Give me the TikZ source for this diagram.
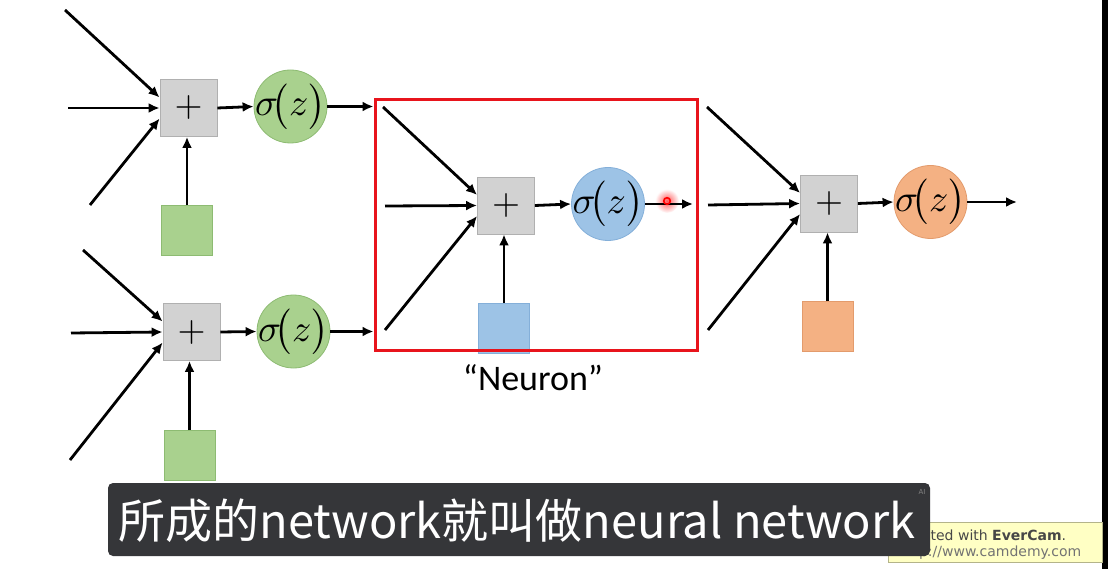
\documentclass[tikz,border=0pt]{standalone}
\usepackage{fontspec}
\setmainfont{Carlito}
\newfontfamily\cjkfont{Noto Sans CJK SC}
\newfontfamily\dvfont{DejaVu Sans}
\usetikzlibrary{arrows.meta}
\definecolor{boxfill}{HTML}{D2D2D2}
\definecolor{boxline}{HTML}{B0B0B0}
\definecolor{gfill}{HTML}{A9D18E}
\definecolor{gline}{HTML}{8DBB72}
\definecolor{bfill}{HTML}{9DC3E6}
\definecolor{bline}{HTML}{84AFD9}
\definecolor{ofill}{HTML}{F4B183}
\definecolor{oline}{HTML}{E39B6C}
\definecolor{redline}{HTML}{E8141C}
\definecolor{subbg}{HTML}{353639}
\definecolor{evfill}{HTML}{FFFFC4}
\definecolor{evline}{HTML}{B4B48A}
\newcommand{\sigz}{\scalebox{3.8}{$\sigma\!\bigl(z\bigr)$}}
\newcommand{\plusz}{\scalebox{3.6}{$+$}}
\tikzset{
  arr/.style={line width=2.8pt, -{Latex[length=11pt,width=10pt]}},
  plusbox/.style={draw=boxline, fill=boxfill, line width=0.8pt, minimum width=57pt, minimum height=57pt, inner sep=0pt, font=\fontsize{10}{10}\selectfont},
  sig/.style={circle, line width=0.8pt, minimum size=73pt, inner sep=0pt,
    label={[inner sep=0pt, font=\fontsize{10}{10}\selectfont]center:\sigz}},
  bias/.style={line width=0.8pt, minimum width=51pt, minimum height=50pt, inner sep=0pt},
}
\begin{document}
\begin{tikzpicture}[x=1pt,y=-1pt]
\useasboundingbox (0,0) rectangle (1108,569);
\fill[white] (0,0) rectangle (1108,569);
\fill[black] (1102,0) rectangle (1108,569);

% ---------- top-left neuron ----------
\node[plusbox] (p1) at (188.5,108) {\plusz};
\node[sig, fill=gfill, draw=gline] (s1) at (290.5,106.5) {};
\node[bias, fill=gfill, draw=gline] (b1) at (187,230.5) {};
\coordinate (i11) at (65,10);
\coordinate (i12) at (68,108);
\coordinate (i13) at (90,205);
\draw[arr] (i11) -- (p1.160);
\draw[arr] (i12) -- (p1.west);
\draw[arr] (i13) -- (p1.200);
\draw[arr] (b1.north) -- (b1.north |- p1.south);
\draw[arr] (p1.east) -- (s1.west);

% ---------- bottom-left neuron ----------
\node[plusbox] (p2) at (191.5,332) {\plusz};
\node[sig, fill=gfill, draw=gline] (s2) at (293.5,331.5) {};
\node[bias, fill=gfill, draw=gline] (b2) at (189.5,455.5) {};
\coordinate (i21) at (83,250);
\coordinate (i22) at (71,333);
\coordinate (i23) at (70,460);
\draw[arr] (i21) -- (p2.160);
\draw[arr] (i22) -- (p2.west);
\draw[arr] (i23) -- (p2.200);
\draw[arr] (b2.north) -- (b2.north |- p2.south);
\draw[arr] (p2.east) -- (s2.west);

% ---------- middle neuron ----------
\node[plusbox] (p3) at (506,205.5) {\plusz};
\node[sig, fill=bfill, draw=bline] (s3) at (608,204) {};
\node[bias, fill=bfill, draw=bline] (b3) at (504,328) {};
\coordinate (i31) at (383,107);
\coordinate (i32) at (385,206);
\coordinate (i33) at (385,330);
\draw[arr] (i31) -- (p3.160);
\draw[arr] (i32) -- (p3.west);
\draw[arr] (i33) -- (p3.200);
\draw[arr] (b3.north) -- (b3.north |- p3.south);
\draw[arr] (p3.east) -- (s3.west);
% cursor glow (under the line)
\shade[inner color=red!65, outer color=white] (667,201) circle (12);
\coordinate (o3) at (693,204);
\draw[arr] (s3.east) -- (o3);
\draw[red, line width=1.6pt] (667,201) circle (3.3);

% red neuron frame
\node[draw=redline, line width=3pt, minimum width=322pt, minimum height=250pt, inner sep=0pt] (rb) at (536,225) {};
\draw[arr] (s1.east) -- (rb.west |- s1.east);
\draw[arr] (s2.east) -- (rb.west |- s2.east);
\node[font=\fontsize{36}{36}\selectfont] (lab) at (533,378) {“Neuron”};

% ---------- right neuron ----------
\node[plusbox] (p4) at (829,203.5) {\plusz};
\node[sig, fill=ofill, draw=oline] (s4) at (930.5,202) {};
\node[bias, fill=ofill, draw=oline] (b4) at (827.5,326.5) {};
\coordinate (i41) at (707,107);
\coordinate (i42) at (708,205);
\coordinate (i43) at (708,330);
\draw[arr] (i41) -- (p4.160);
\draw[arr] (i42) -- (p4.west);
\draw[arr] (i43) -- (p4.200);
\draw[arr] (b4.north) -- (b4.north |- p4.south);
\draw[arr] (p4.east) -- (s4.west);
\coordinate (o4) at (1017,202);
\draw[arr] (s4.east) -- (o4);

% ---------- EverCam watermark ----------
\node[draw=evline, fill=evfill, line width=0.8pt, minimum width=214pt, minimum height=40pt, inner sep=0pt] (ev) at (995,542.5) {};
\node[anchor=base west, font=\dvfont\fontsize{14}{14}\selectfont, text=black!72, inner sep=0pt] (ev1) at (898,540) {Created with \textbf{EverCam}.};
\node[anchor=base west, font=\dvfont\fontsize{14}{14}\selectfont, text=black!55, inner sep=0pt] (ev2) at (899,556) {http://www.camdemy.com};

% ---------- subtitle ----------
\node[fill=subbg, rounded corners=5pt, minimum width=822pt, minimum height=73pt, inner sep=0pt] (sub) at (519,519.5) {};
\node[text=white, font=\cjkfont\fontsize{47}{47}\selectfont, inner sep=0pt] (subt) at (517,521) {所成的network就叫做neural network};
\node[text=gray, font=\dvfont\fontsize{7}{7}\selectfont, inner sep=0pt] (ai) at (922,492) {AI};
\end{tikzpicture}
\end{document}
